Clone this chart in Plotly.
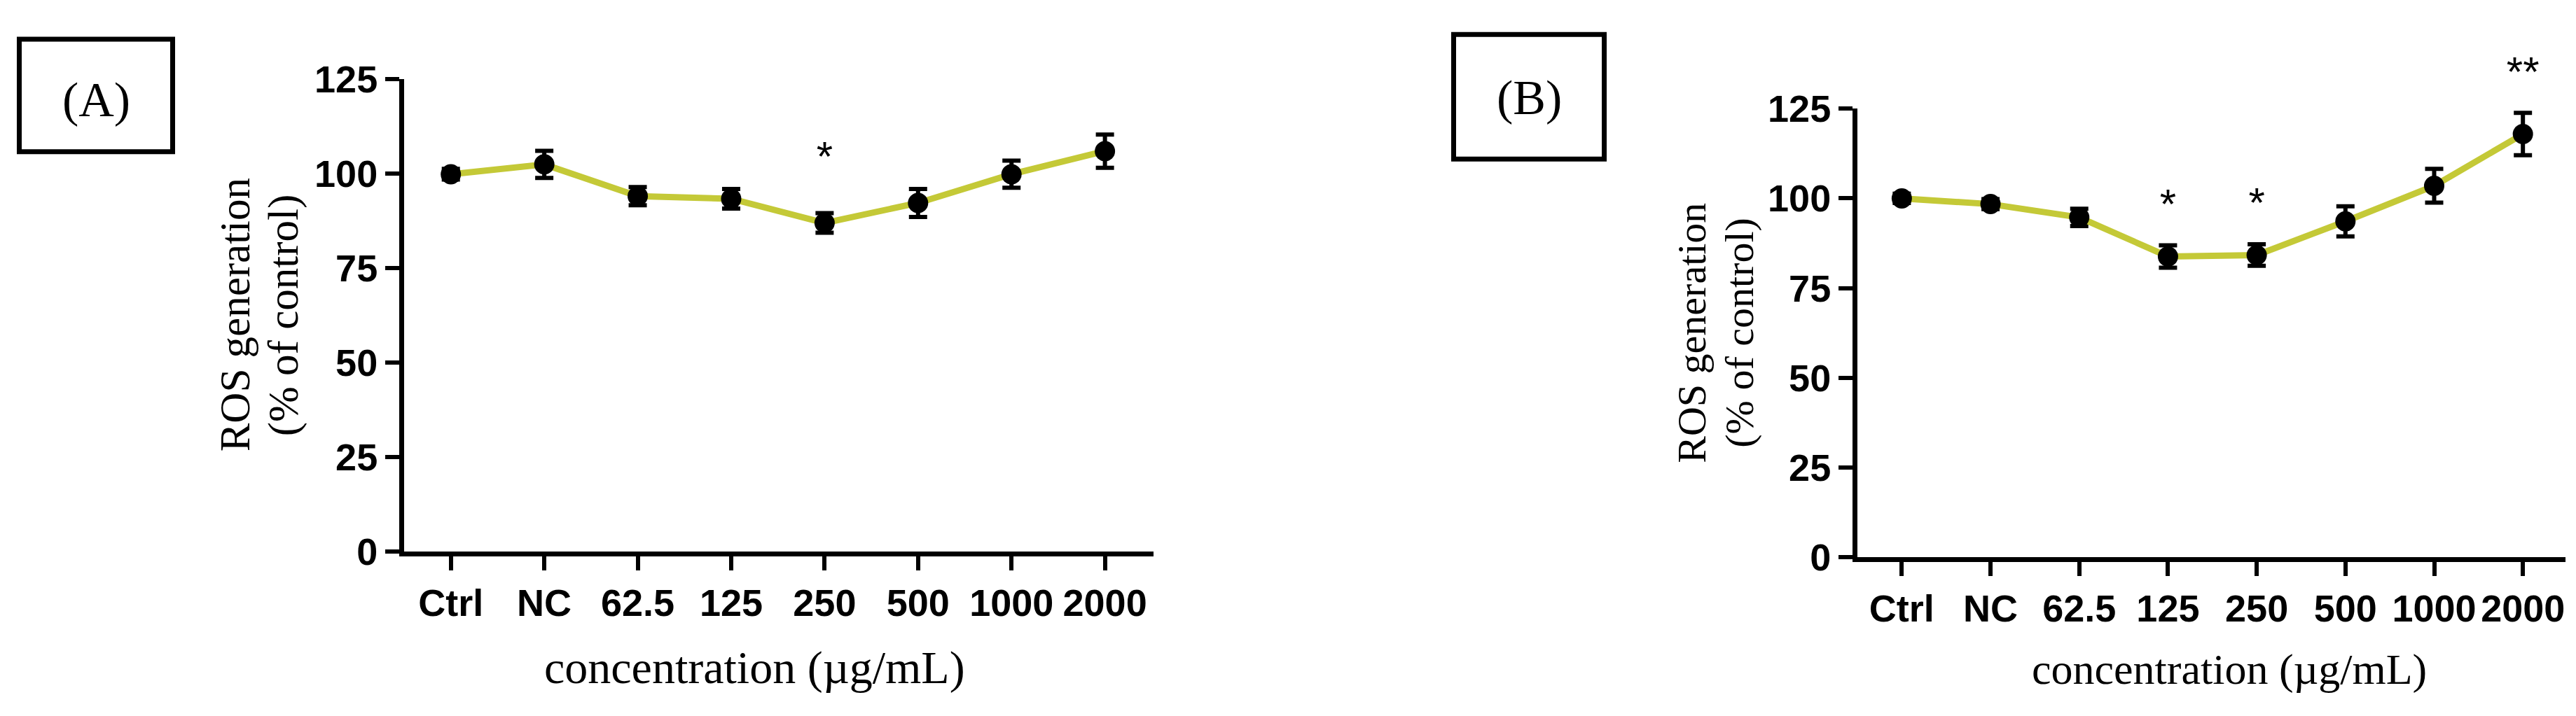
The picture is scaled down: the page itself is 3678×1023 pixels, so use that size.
import plotly.graph_objects as go

# ---------------- data ----------------
categories = ["Ctrl", "NC", "62.5", "125", "250", "500", "1000", "2000"]
a_mean = [99.8, 102.4, 94.0, 93.3, 86.9, 92.2, 99.8, 105.9]
a_err = [1.4, 3.6, 2.4, 2.6, 2.6, 3.7, 3.6, 4.4]
b_mean = [100.0, 98.4, 94.7, 83.8, 84.2, 93.6, 103.5, 117.9]
b_err = [1.3, 1.4, 2.4, 3.1, 3.0, 4.2, 4.7, 5.9]
a_sig = ["", "", "", "", "*", "", "", ""]
b_sig = ["", "", "", "*", "*", "", "", "**"]
y_ticks = [0, 25, 50, 75, 100, 125]
panel_labels = ["(A)", "(B)"]
y_title_lines = ["ROS generation", "(% of control)"]
x_title = "concentration (\u00b5g/mL)"

W, H = 3678, 1023
Y_MAX = 125
LINE_COLOR = "#c4c937"
SANS = "Arial, Liberation Sans, sans-serif"
SERIF = "Times New Roman, Liberation Serif, serif"


def px_x(p):
    return p / W


def px_y(p):
    return 1 - p / H


fig = go.Figure()

panels = [
    dict(mean=a_mean, err=a_err, sig=a_sig, xa="x", ya="y", ya_star="y3",
         xdom=[px_x(577), px_x(1647)], ydom=[px_y(805), px_y(88)],
         xrange=[-0.5, 7.52],
         star_off=14.0, ytitle_x=(335, 405), ytitle_size=61,
         xtitle_x=1077, xtitle_y=982, xtitle_size=66,
         box=(24, 24, 250, 202), lab_xy=(137, 120), lab_size=70),
    dict(mean=b_mean, err=b_err, sig=b_sig, xa="x2", ya="y2", ya_star="y4",
         xdom=[px_x(2652), px_x(3663)], ydom=[px_y(814), px_y(133)],
         xrange=[-0.5, 7.48],
         star_off=10.5, ytitle_x=(2416, 2484), ytitle_size=58,
         xtitle_x=3183, xtitle_y=984, xtitle_size=62,
         box=(2072, 17, 2294, 213), lab_xy=(2183, 116), lab_size=70),
]

annotations = []
shapes = []

for i, p in enumerate(panels):
    fig.add_trace(go.Scatter(
        x=categories, y=p["mean"], xaxis=p["xa"], yaxis=p["ya"],
        mode="lines+markers",
        line=dict(color=LINE_COLOR, width=9),
        marker=dict(color="black", size=29),
        error_y=dict(type="data", array=p["err"], visible=True,
                     color="black", thickness=6, width=13),
        showlegend=False, hoverinfo="skip",
    ))
    # significance stars on an invisible overlay axis with the same scale
    star_x = [c for c, s in zip(categories, p["sig"]) if s]
    star_y = [m + e + p["star_off"] for m, e, s in zip(p["mean"], p["err"], p["sig"]) if s]
    star_t = [s for s in p["sig"] if s]
    fig.add_trace(go.Scatter(
        x=star_x, y=star_y, text=star_t, xaxis=p["xa"], yaxis=p["ya_star"],
        mode="text", textposition="middle center", cliponaxis=False,
        textfont=dict(family=SANS, size=60, color="black"),
        showlegend=False, hoverinfo="skip",
    ))
    # y title (two rotated lines)
    ymid = (p["ydom"][0] + p["ydom"][1]) / 2
    for line_txt, lx in zip(y_title_lines, p["ytitle_x"]):
        annotations.append(dict(
            x=px_x(lx), y=ymid, xref="paper", yref="paper",
            text=line_txt, textangle=-90, showarrow=False,
            xanchor="center", yanchor="middle",
            font=dict(family=SERIF, size=p["ytitle_size"], color="black")))
    # x title
    annotations.append(dict(
        x=px_x(p["xtitle_x"]), y=px_y(p["xtitle_y"]), xref="paper", yref="paper",
        text=x_title, showarrow=False, xanchor="center", yanchor="middle",
        font=dict(family=SERIF, size=p["xtitle_size"], color="black")))
    # panel label box
    x0, y0, x1, y1 = p["box"]
    shapes.append(dict(type="rect", xref="paper", yref="paper",
                       x0=px_x(x0 + 3.5), x1=px_x(x1 - 3.5),
                       y0=px_y(y0 + 3.5), y1=px_y(y1 - 3.5),
                       line=dict(color="black", width=7), fillcolor="rgba(0,0,0,0)"))
    annotations.append(dict(
        x=px_x(p["lab_xy"][0]), y=px_y(p["lab_xy"][1]), xref="paper", yref="paper",
        text=panel_labels[i], showarrow=False, xanchor="center", yanchor="middle",
        font=dict(family=SERIF, size=p["lab_size"], color="black")))

axis_common = dict(showline=True, linecolor="black", linewidth=7,
                   ticks="outside", ticklen=20, tickwidth=6, tickcolor="black",
                   showgrid=False, zeroline=False,
                   tickfont=dict(family=SANS, size=54, color="black", weight="bold"))


def star_axis(p):
    # same data-to-pixel scale as the main y axis, but reaching the top of the figure
    d0, d1 = p["ydom"]
    top = Y_MAX * (1 - d0) / (d1 - d0)
    return dict(domain=[d0, 1.0], range=[0, top], anchor=p["xa"], visible=False,
                showgrid=False, zeroline=False, fixedrange=True)


fig.update_layout(
    width=W, height=H,
    margin=dict(l=0, r=0, t=0, b=0),
    paper_bgcolor="white", plot_bgcolor="rgba(0,0,0,0)",
    showlegend=False,
    xaxis=dict(domain=panels[0]["xdom"], anchor="y", type="category",
               categoryorder="array", categoryarray=categories,
               range=panels[0]["xrange"], **axis_common),
    yaxis=dict(domain=panels[0]["ydom"], anchor="x", range=[0, Y_MAX],
               tickvals=y_ticks, **axis_common),
    xaxis2=dict(domain=panels[1]["xdom"], anchor="y2", type="category",
                categoryorder="array", categoryarray=categories,
                range=panels[1]["xrange"], **axis_common),
    yaxis2=dict(domain=panels[1]["ydom"], anchor="x2", range=[0, Y_MAX],
                tickvals=y_ticks, **axis_common),
    yaxis3=star_axis(panels[0]),
    yaxis4=star_axis(panels[1]),
    annotations=annotations,
    shapes=shapes,
)

fig.write_html("out.html", config={"displayModeBar": False},
               post_script="document.body.style.margin='0px';")
